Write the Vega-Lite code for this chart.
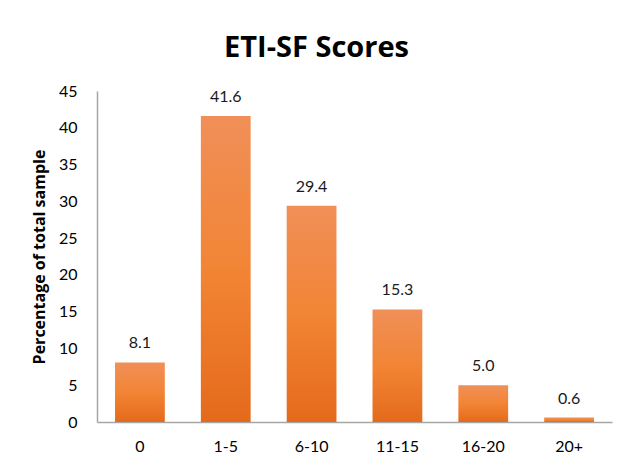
{
  "$schema": "https://vega.github.io/schema/vega-lite/v6.json",
  "autosize": {"type": "none"},
  "padding": {"left": 97, "top": 91, "right": 13, "bottom": 48},
  "width": 515,
  "height": 331,
  "background": "white",
  "config": {"view": {"stroke": null}, "font": "Lato"},
  "title": {
    "text": "ETI-SF Scores",
    "fontSize": 29,
    "fontWeight": "bold",
    "font": "Open Sans",
    "color": "#000000",
    "anchor": "middle",
    "dx": -38,
    "offset": 20
  },
  "data": {
    "values": [
      {"score": "0", "pct": 8.1},
      {"score": "1-5", "pct": 41.6},
      {"score": "6-10", "pct": 29.4},
      {"score": "11-15", "pct": 15.3},
      {"score": "16-20", "pct": 5.0},
      {"score": "20+", "pct": 0.6}
    ]
  },
  "encoding": {
    "x": {
      "field": "score",
      "type": "nominal",
      "sort": null,
      "scale": {"paddingInner": 0.42, "paddingOuter": 0.21},
      "axis": {
        "title": null,
        "labelAngle": 0,
        "labelFontSize": 16,
        "labelColor": "#000000",
        "labelPadding": 16,
        "ticks": false,
        "domainColor": "#a6a6a6",
        "domainWidth": 1.5
      }
    },
    "y": {
      "field": "pct",
      "type": "quantitative",
      "scale": {"domain": [0, 45], "nice": false},
      "axis": {
        "title": "Percentage of total sample",
        "titleFont": "Open Sans",
        "titleFontSize": 16,
        "titleFontWeight": "bold",
        "titleColor": "#000000",
        "titlePadding": 11,
        "values": [0, 5, 10, 15, 20, 25, 30, 35, 40, 45],
        "labelFontSize": 16,
        "labelColor": "#000000",
        "labelPadding": 20,
        "ticks": false,
        "grid": false,
        "domainColor": "#a6a6a6",
        "domainWidth": 1.5
      }
    }
  },
  "layer": [
    {
      "mark": {
        "type": "bar",
        "color": {
          "gradient": "linear",
          "x1": 0, "y1": 0, "x2": 0, "y2": 1,
          "stops": [
            {"offset": 0, "color": "#f08f58"},
            {"offset": 0.5, "color": "#f28535"},
            {"offset": 1, "color": "#e46a1b"}
          ]
        }
      }
    },
    {
      "mark": {"type": "text", "baseline": "alphabetic", "dy": -14, "fontSize": 16, "color": "#1a1a1a"},
      "encoding": {"text": {"field": "pct", "type": "quantitative", "format": ".1f"}}
    }
  ]
}
